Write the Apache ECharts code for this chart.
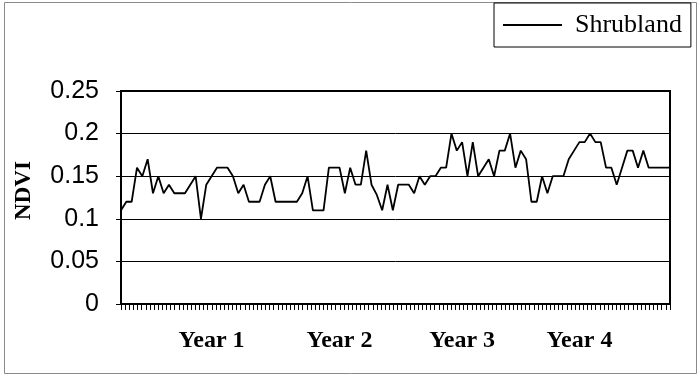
<!DOCTYPE html>
<html>
<head>
<meta charset="utf-8">
<script src="https://cdn.jsdelivr.net/npm/echarts@6/dist/echarts.min.js"></script>
<style>html,body{margin:0;padding:0;background:#fff}#c{width:700px;height:379px}</style>
</head>
<body>
<div id="c"></div>
<script>
var seriesName = 'Shrubland';
var ndvi = [
  0.11, 0.12, 0.12, 0.16, 0.15, 0.17, 0.13, 0.15, 0.13, 0.14,
  0.13, 0.13, 0.13, 0.14, 0.15, 0.10, 0.14, 0.15, 0.16, 0.16,
  0.16, 0.15, 0.13, 0.14, 0.12, 0.12, 0.12, 0.14, 0.15, 0.12,
  0.12, 0.12, 0.12, 0.12, 0.13, 0.15, 0.11, 0.11, 0.11, 0.16,
  0.16, 0.16, 0.13, 0.16, 0.14, 0.14, 0.18, 0.14, 0.128, 0.11,
  0.14, 0.11, 0.14, 0.14, 0.14, 0.13, 0.15, 0.14, 0.15, 0.15,
  0.16, 0.16, 0.20, 0.18, 0.19, 0.15, 0.19, 0.15, 0.16, 0.17,
  0.15, 0.18, 0.18, 0.20, 0.16, 0.18, 0.17, 0.12, 0.12, 0.15,
  0.13, 0.15, 0.15, 0.15, 0.17, 0.18, 0.19, 0.19, 0.20, 0.19,
  0.19, 0.16, 0.16, 0.14, 0.16, 0.18, 0.18, 0.16, 0.18, 0.16,
  0.16, 0.16, 0.16, 0.16
];
var yearLabels = ['Year 1', 'Year 2', 'Year 3', 'Year 4'];
var yearLabelAt = [17, 41, 64, 86];
var yTickLabels = ['0', '0.05', '0.1', '0.15', '0.2', '0.25'];
var tickCount = 134;

var categories = ndvi.map(function (v, i) {
  var k = yearLabelAt.indexOf(i);
  return k >= 0 ? yearLabels[k] : '';
});

var chart = echarts.init(document.getElementById('c'), null, {renderer: 'canvas'});
chart.setOption({
  animation: false,
  backgroundColor: '#fff',
  graphic: [{
    type: 'rect', shape: {x: 4.5, y: 2.5, width: 692, height: 371},
    style: {fill: 'none', stroke: '#8a8a8a', lineWidth: 1}, z: -1
  }],
  legend: {
    data: [seriesName], left: 494, top: 3,
    icon: 'rect', itemWidth: 59, itemHeight: 2,
    borderColor: '#000', borderWidth: 1, borderRadius: 0,
    padding: [9, 9, 9, 9],
    itemStyle: {color: '#000'},
    textStyle: {fontFamily: 'Liberation Serif', fontSize: 26, color: '#000', padding: [0, 0, 0, 8]}
  },
  grid: {left: 121, right: 30, top: 91, bottom: 75, show: true, borderColor: '#000', borderWidth: 2, containLabel: false},
  xAxis: [{
    type: 'category', data: categories, boundaryGap: false,
    axisLine: {lineStyle: {color: '#000', width: 2}},
    axisTick: {show: false},
    axisLabel: {
      interval: function (i, v) { return v !== ''; },
      fontFamily: 'Liberation Serif', fontWeight: 'bold', fontSize: 24, color: '#000', margin: 25
    },
    splitLine: {show: false}
  }, {
    type: 'value', position: 'bottom', min: 0, max: tickCount - 1, interval: 1,
    axisLine: {show: false},
    axisTick: {show: true, length: 6, lineStyle: {color: '#000', width: 1}},
    axisLabel: {show: false},
    splitLine: {show: false}
  }],
  yAxis: {
    type: 'value', min: 0, max: 0.25, interval: 0.05,
    name: 'NDVI', nameLocation: 'middle', nameRotate: 90, nameGap: 85,
    nameTextStyle: {fontFamily: 'Liberation Serif', fontWeight: 'bold', fontSize: 23, color: '#000', padding: [0, 0, 0, 14]},
    axisLine: {show: true, lineStyle: {color: '#000', width: 2}},
    axisTick: {show: true, length: 5, lineStyle: {color: '#000', width: 1}},
    axisLabel: {
      formatter: function (v) { return yTickLabels[Math.round(v / 0.05)]; },
      fontFamily: 'Liberation Sans', fontSize: 25, color: '#000', margin: 22
    },
    splitLine: {show: true, lineStyle: {color: '#000', width: 1}}
  },
  series: [{
    name: seriesName, type: 'line', data: ndvi, xAxisIndex: 0,
    showSymbol: false, symbol: 'none',
    lineStyle: {color: '#000', width: 1.8},
    itemStyle: {color: '#000'}
  }]
});
</script>
</body>
</html>
